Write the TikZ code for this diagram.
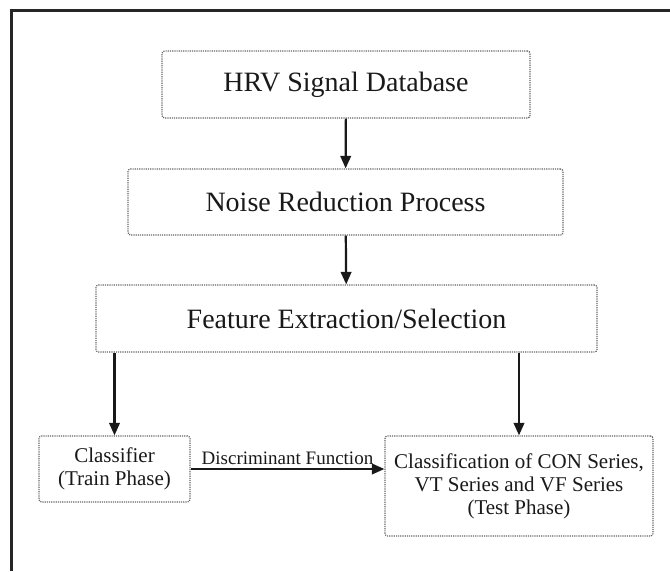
\documentclass[tikz,border=0pt]{standalone}
\usepackage{fontspec}
\setmainfont{Liberation Serif}
\usetikzlibrary{arrows.meta,calc}

\tikzset{
  stage/.style={draw=black!60, densely dotted, line width=1.2pt, rounded corners=2.5pt,
                inner sep=0pt, align=center, text=black!90,
                font=\fontsize{28}{32}\selectfont},
  smallstage/.style={stage, font=\fontsize{21}{23}\selectfont},
  flow/.style={draw=black!90, line width=2.2pt,
               -{Triangle[length=12.5pt,width=10.5pt]}},
  frameline/.style={draw=black!85, line width=3pt}
}

\begin{document}
\begin{tikzpicture}[x=1pt,y=-1pt]
  \useasboundingbox (0,0) rectangle (670,571);

  % open frame: top and left edges only
  \draw[frameline] (11,571) -- (11,10) -- (670,10);

  % processing stages
  \node[stage, minimum width=368pt, minimum height=67pt] (db)    at (346,84.5)  {HRV Signal Database};
  \node[stage, minimum width=435pt, minimum height=66pt] (noise) at (345.5,202) {Noise Reduction Process};
  \node[stage, minimum width=501pt, minimum height=67pt] (feat)  at (346.5,318.5) {Feature Extraction/Selection};

  % classification stages
  \node[smallstage, minimum width=151pt, minimum height=66pt] (clf)  at (114.5,469) {Classifier\\(Train Phase)};
  \node[smallstage, minimum width=268pt, minimum height=100pt] (test) at (519,486)
       {Classification of CON Series,\\VT Series and VF Series\\(Test Phase)};

  % connectors
  \draw[flow] (db) -- (noise);
  \draw[flow] (noise) -- (feat);
  \draw[flow] (clf.north |- feat.south) -- (clf.north);
  \draw[flow] (test.north |- feat.south) -- (test.north);
  \draw[flow] (clf.east) -- node[above, inner sep=3pt, text=black!90,
        font=\fontsize{19}{21}\selectfont] {Discriminant Function} (test.west |- clf.east);
\end{tikzpicture}
\end{document}
